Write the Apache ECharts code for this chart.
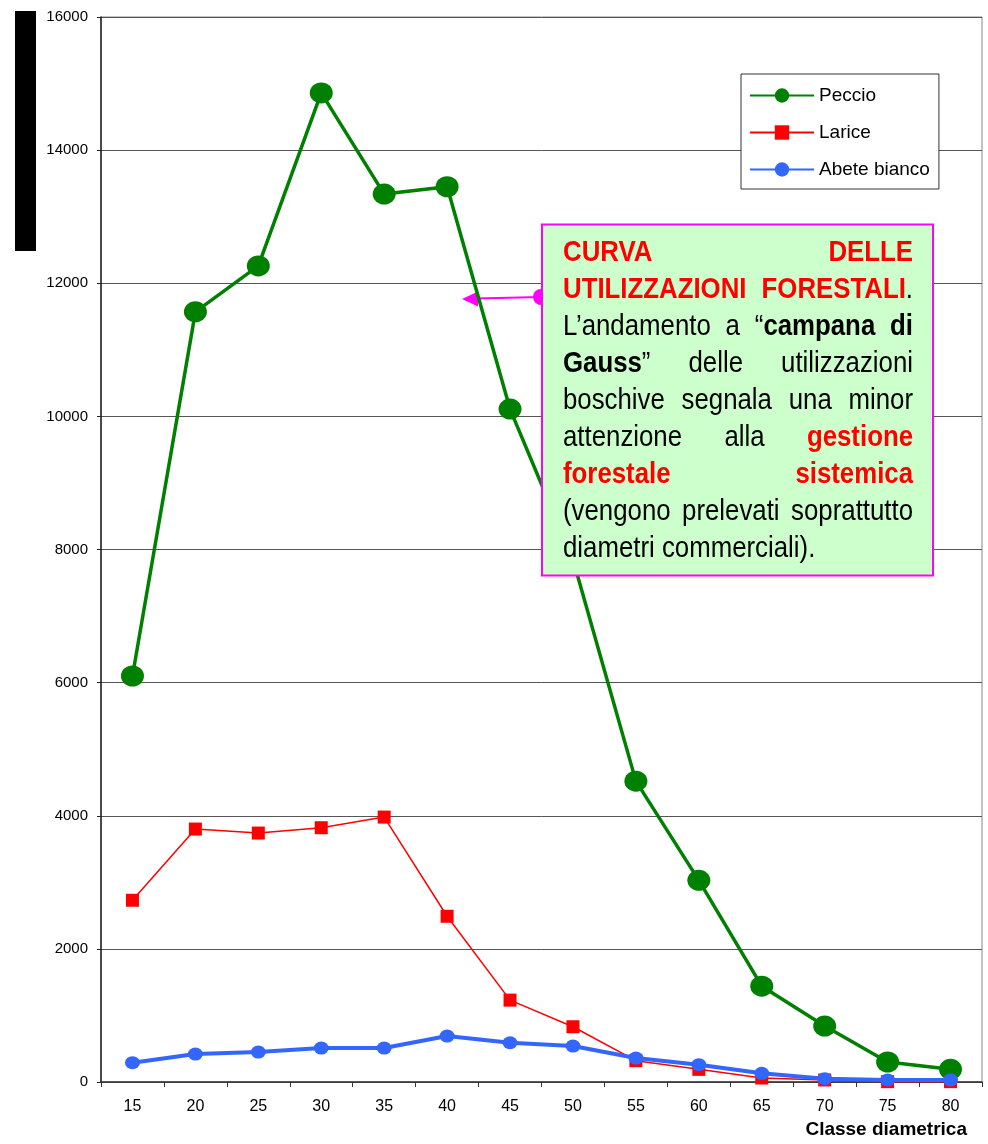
<!DOCTYPE html>
<html>
<head>
<meta charset="utf-8">
<title>Classe diametrica</title>
<script src="https://cdn.jsdelivr.net/npm/echarts@6/dist/echarts.min.js"></script>
<style>
html, body { margin: 0; padding: 0; background: #fff; }
#main { width: 988px; height: 1144px; }
</style>
</head>
<body>
<div id="main"></div>
<script>
// dati
var classi = ['15', '20', '25', '30', '35', '40', '45', '50', '55', '60', '65', '70', '75', '80'];
var peccio = [6100, 11570, 12260, 14860, 13340, 13450, 10110, 7850, 4520, 3030, 1440, 840, 300, 190];
var larice = [2730, 3800, 3740, 3820, 3980, 2490, 1230, 830, 320, 190, 60, 30, 5, 5];
var abete = [290, 420, 450, 510, 510, 690, 590, 540, 360, 260, 130, 50, 30, 30];
var yMin = 0, yMax = 16000, yStep = 2000;

// testo del riquadro: r = rosso grassetto, b = grassetto, n = normale
var notaRighe = [
    [[['CURVA', 'r']], [['DELLE', 'r']]],
    [[['UTILIZZAZIONI', 'r']], [['FORESTALI', 'r'], ['.', 'n']]],
    [[['L\u2019andamento', 'n']], [['a', 'n']], [['\u201c', 'n'], ['campana', 'b']], [['di', 'b']]],
    [[['Gauss', 'b'], ['\u201d', 'n']], [['delle', 'n']], [['utilizzazioni', 'n']]],
    [[['boschive', 'n']], [['segnala', 'n']], [['una', 'n']], [['minor', 'n']]],
    [[['attenzione', 'n']], [['alla', 'n']], [['gestione', 'r']]],
    [[['forestale', 'r']], [['sistemica', 'r']]],
    [[['(vengono', 'n']], [['prelevati', 'n']], [['soprattutto', 'n']]],
    [[['diametri', 'n']], [['commerciali).', 'n']]]
];

var FONT = '"Liberation Sans", Arial, sans-serif';
var boxFont = 30, boxScale = 0.86;
var boxLeft = 563, boxWidth = 350, boxTop = 253, boxLine = 37;

var ctx = document.createElement('canvas').getContext('2d');
function segWidth(seg) {
    ctx.font = (seg[1] == 'n' ? 'normal' : 'bold') + ' ' + boxFont + 'px ' + FONT;
    return ctx.measureText(seg[0]).width * boxScale;
}

function notaGraphic() {
    var els = [];
    ctx.font = 'normal ' + boxFont + 'px ' + FONT;
    var spazio = ctx.measureText(' ').width * boxScale;
    for (var i = 0; i < notaRighe.length; i++) {
        var parole = notaRighe[i];
        var tot = 0;
        for (var j = 0; j < parole.length; j++) {
            for (var k = 0; k < parole[j].length; k++) tot += segWidth(parole[j][k]);
        }
        var ultima = i == notaRighe.length - 1;
        var gap = ultima ? spazio : (boxWidth - tot) / (parole.length - 1);
        var x = boxLeft;
        for (var j = 0; j < parole.length; j++) {
            for (var k = 0; k < parole[j].length; k++) {
                var seg = parole[j][k];
                els.push({
                    type: 'text', x: x, y: boxTop + i * boxLine, scaleX: boxScale, z: 11,
                    style: {
                        text: seg[0], fontSize: boxFont, fontFamily: FONT,
                        fontWeight: seg[1] == 'n' ? 'normal' : 'bold',
                        fill: seg[1] == 'r' ? '#ff0000' : '#000000',
                        align: 'left', verticalAlign: 'middle'
                    }
                });
                x += segWidth(seg);
            }
            x += gap;
        }
    }
    return els;
}

var graphics = [
    // barra nera a sinistra
    {type: 'rect', shape: {x: 15, y: 11, width: 21, height: 240}, style: {fill: '#000'}, z: 5},
    // freccia magenta
    {type: 'line', shape: {x1: 476, y1: 298.5, x2: 541, y2: 297}, style: {stroke: '#ff00ff', lineWidth: 2}, z: 1},
    {type: 'polygon', shape: {points: [[462, 299], [478, 291.5], [478, 306.5]]}, style: {fill: '#ff00ff'}, z: 1},
    {type: 'circle', shape: {cx: 541, cy: 297, r: 8}, style: {fill: '#ff00ff'}, z: 1},
    // riquadro
    {type: 'rect', shape: {x: 542, y: 224.5, width: 391, height: 351}, style: {fill: '#ccffcc', stroke: '#ff00ff', lineWidth: 2}, z: 10}
].concat(notaGraphic());

var chart = echarts.init(document.getElementById('main'));
chart.setOption({
    animation: false,
    backgroundColor: '#ffffff',
    textStyle: {fontFamily: FONT},
    grid: {left: 101, right: 6, top: 17, bottom: 62, show: true, borderColor: '#888', borderWidth: 1},
    legend: {
        orient: 'vertical', left: 741, top: 74,
        padding: [12, 9, 10, 8],
        itemWidth: 64, itemHeight: 18, itemGap: 18,
        backgroundColor: '#fff', borderColor: '#333', borderWidth: 1, borderRadius: 0,
        textStyle: {fontSize: 19, color: '#000', fontFamily: FONT},
        data: ['Peccio', 'Larice', 'Abete bianco']
    },
    xAxis: {
        type: 'category', data: classi, boundaryGap: true,
        name: 'Classe diametrica', nameLocation: 'end', nameGap: -15,
        nameTextStyle: {fontSize: 19, fontWeight: 'bold', color: '#000', align: 'right', verticalAlign: 'top', padding: [38, 0, 0, 0]},
        axisLine: {lineStyle: {color: '#333', width: 1.5}},
        axisTick: {show: true, length: 5, interval: 0, lineStyle: {color: '#333'}},
        axisLabel: {fontSize: 16, color: '#000', margin: 17, interval: 0},
        splitLine: {show: false}
    },
    yAxis: {
        type: 'value', min: yMin, max: yMax, interval: yStep,
        axisLine: {show: true, lineStyle: {color: '#222', width: 1.5}},
        axisTick: {show: true, length: 4, lineStyle: {color: '#222'}},
        axisLabel: {fontSize: 15, color: '#000', margin: 13, formatter: function (v) { return String(v); }},
        splitLine: {show: true, lineStyle: {color: '#555', width: 1}}
    },
    series: [
        {
            name: 'Peccio', type: 'line', data: peccio, color: '#008000',
            symbol: 'circle', symbolSize: [23, 21],
            lineStyle: {width: 3.5, color: '#008000'}, itemStyle: {color: '#008000'},
            emphasis: {disabled: true}
        },
        {
            name: 'Larice', type: 'line', data: larice, color: '#ff0000',
            symbol: 'rect', symbolSize: 13,
            lineStyle: {width: 1.5, color: '#ff0000'}, itemStyle: {color: '#ff0000'},
            emphasis: {disabled: true}
        },
        {
            name: 'Abete bianco', type: 'line', data: abete, color: '#3366ff',
            symbol: 'circle', symbolSize: [15, 13],
            lineStyle: {width: 4, color: '#3366ff'}, itemStyle: {color: '#3366ff'},
            emphasis: {disabled: true}
        }
    ],
    graphic: graphics
});
</script>
</body>
</html>
